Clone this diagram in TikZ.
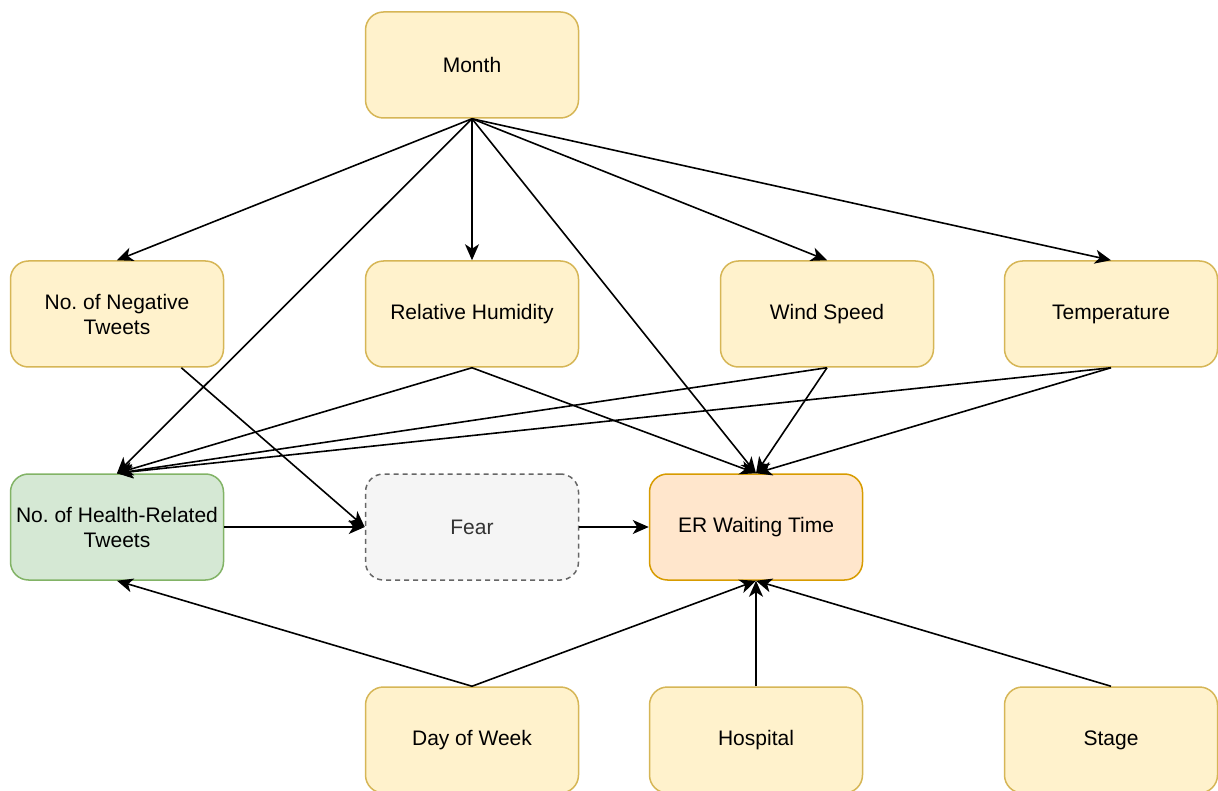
\documentclass[tikz,border=0pt]{standalone}
\usepackage{fontspec}
\setmainfont{Liberation Sans}
\usetikzlibrary{arrows.meta,positioning,calc}
\definecolor{yfill}{HTML}{FFF2CC}
\definecolor{ydraw}{HTML}{D6B656}
\definecolor{gfill}{HTML}{D5E8D4}
\definecolor{gdraw}{HTML}{82B366}
\definecolor{ofill}{HTML}{FFE6CC}
\definecolor{odraw}{HTML}{D79B00}
\definecolor{fearfill}{HTML}{F5F5F5}
\definecolor{feardraw}{HTML}{666666}
\definecolor{feartext}{HTML}{333333}
\frenchspacing

\begin{document}
\begin{tikzpicture}[
		x=1pt,
		y=-1pt,
		box/.style={
			draw=ydraw,
			fill=yfill,
			line width=1.5pt,
			rounded corners=18pt,
			minimum width=213pt,
			minimum height=106pt,
			align=center,
			font=\fontsize{21}{25}\selectfont,
		},
		healthbox/.style={
			box,
			draw=gdraw,
			fill=gfill,
		},
		outbox/.style={
			box,
			draw=odraw,
			fill=ofill,
		},
		latentbox/.style={
			box,
			draw=feardraw,
			fill=fearfill,
			text=feartext,
			dash pattern=on 5pt off 4pt,
		},
		edge/.style={
			draw,
			line width=1.6pt,
			-{Stealth[length=16pt,width=14pt,inset=4.5pt]},
		},
	]
		\useasboundingbox (0,0) rectangle (1218,791);
		\node[box] (month) at (472,65) {Month};
		\node[box] (neg) at (117,314) {No. of Negative\\Tweets};
		\node[box] (hum) at (472,314) {Relative Humidity};
		\node[box] (wind) at (827,314) {Wind Speed};
		\node[box] (temp) at (1111,314) {Temperature};
		\node[healthbox] (health) at (117,527) {No. of Health-Related\\Tweets};
		\node[latentbox] (fear) at (472,527) {Fear};
		\node[outbox] (er) at (756,527) {ER Waiting Time};
		\node[box] (day) at (472,740) {Day of Week};
		\node[box] (hosp) at (756,740) {Hospital};
		\node[box] (stage) at (1111,740) {Stage};
		\coordinate (negout) at ($(neg.south west)!0.8!(neg.south east)$);

		\foreach \target in {neg,hum,wind,temp,health,er}
			\draw[edge] (month.south) -- (\target.north);
		\foreach \source in {hum,wind,temp}
			\draw[edge] (\source.south) -- (health.north);
		\foreach \source in {hum,wind,temp}
			\draw[edge] (\source.south) -- (er.north);
		\draw[edge] (negout) -- (fear.west);
		\draw[edge] (health.east) -- (fear.west);
		\draw[edge] (fear.east) -- (er.west);
		\draw[edge] (day.north) -- (health.south);
		\foreach \source in {day,hosp,stage}
			\draw[edge] (\source.north) -- (er.south);
	\end{tikzpicture}
\end{document}
